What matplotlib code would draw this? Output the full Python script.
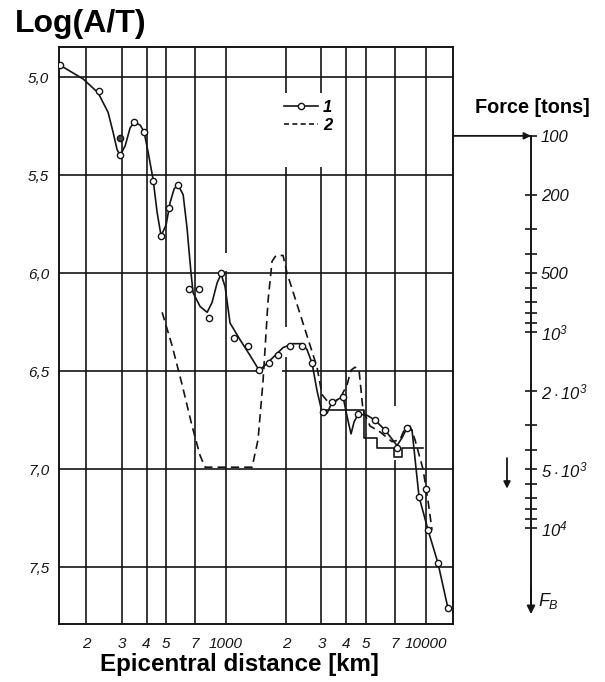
import numpy as np
import matplotlib
matplotlib.use('Agg')
import matplotlib.pyplot as plt
import matplotlib.transforms as mtransforms
from matplotlib.lines import Line2D
from matplotlib.ticker import FixedLocator, FixedFormatter

plt.rcParams['font.family'] = ['Liberation Sans', 'DejaVu Sans']
plt.rcParams['mathtext.fontset'] = 'custom'
plt.rcParams['mathtext.it'] = 'Liberation Sans:italic'
plt.rcParams['mathtext.rm'] = 'Liberation Sans:italic'

# curve 1: smooth line through the observations (distance km, log A/T)
c1_dist = [148, 193, 229, 257, 272, 285, 295, 313, 331, 347, 372, 389, 407, 432, 452,
           473, 501, 525, 550, 575, 610, 638, 652, 668, 684, 741, 804, 851, 902, 944,
           989, 1047, 1175, 1318, 1462, 1567, 1718, 1928, 2163, 2399, 2541, 2692, 2851,
           3020, 3199, 3388, 3846, 4027, 4217, 4365, 4571, 5070, 5559, 6237, 7161, 7586,
           8035, 8511, 9226, 10233, 11482, 12882]
c1_val = [4.94, 5.01, 5.08, 5.18, 5.28, 5.37, 5.40, 5.35, 5.26, 5.23, 5.245, 5.28, 5.38, 5.525, 5.69,
          5.81, 5.755, 5.64, 5.57, 5.55, 5.60, 5.77, 5.88, 6.00, 6.10, 6.17, 6.20, 6.15, 6.05, 6.005,
          6.07, 6.255, 6.34, 6.42, 6.495, 6.47, 6.43, 6.38, 6.36, 6.36, 6.39, 6.46, 6.60,
          6.71, 6.715, 6.66, 6.63, 6.73, 6.82, 6.76, 6.72, 6.725, 6.75, 6.80, 6.88, 6.84,
          6.79, 6.80, 7.14, 7.31, 7.48, 7.71]

# observed points of curve 1
pt_dist = [148, 232, 295, 347, 389, 432, 473, 519, 575, 650, 733, 822, 944, 1096, 1288,
           1462, 1641, 1820, 2090, 2400, 2690, 3055, 3390, 3850, 4570, 5560, 6240, 7160,
           8040, 9230, 10000, 10230, 11480, 12880]
pt_val = [4.94, 5.07, 5.40, 5.23, 5.28, 5.53, 5.81, 5.67, 5.55, 6.08, 6.08, 6.23, 6.00, 6.33, 6.37,
          6.495, 6.46, 6.42, 6.37, 6.37, 6.46, 6.71, 6.66, 6.63, 6.72, 6.75, 6.80, 6.89,
          6.79, 7.14, 7.10, 7.31, 7.48, 7.71]
dark_dist = [295]
dark_val = [5.31]

# curve 2 (dashed)
c2_dist = [479, 537, 603, 676, 741, 785, 1349, 1445, 1531, 1622, 1698, 1778, 1928, 2018,
           2265, 2541, 2851, 3020, 3311, 3715, 4027, 4217, 4416, 4624, 4842, 5248, 5888,
           6761, 7413, 7852, 8318, 8810, 9661, 10233, 10715]
c2_val = [6.20, 6.37, 6.57, 6.78, 6.93, 6.99, 6.99, 6.85, 6.55, 6.14, 5.94, 5.91, 5.91, 6.00,
          6.16, 6.32, 6.48, 6.62, 6.67, 6.64, 6.57, 6.495, 6.48, 6.495, 6.70, 6.78, 6.81,
          6.86, 6.85, 6.79, 6.78, 6.85, 7.00, 7.16, 7.31]

# stepped averages
step_edges = [3150, 4898, 5689, 6918, 7586, 9661]
step_levels = [6.70, 6.84, 6.89, 6.94, 6.89]

x_grid = [200, 300, 400, 500, 700, 1000, 2000, 3000, 4000, 5000, 7000, 10000]
x_labels = ['2', '3', '4', '5', '7', '1000', '2', '3', '4', '5', '7', '10000']
y_grid = [5.0, 5.5, 6.0, 6.5, 7.0, 7.5]
y_labels = ['5,0', '5,5', '6,0', '6,5', '7,0', '7,5']

force_major = [100, 200, 500, 1000, 2000, 5000, 10000]
force_labels = ['100', '200', '500', r'$10^{3}$', r'$2\cdot10^{3}$', r'$5\cdot10^{3}$', r'$10^{4}$']
force_minor = [300, 400, 600, 700, 800, 900, 3000, 4000, 6000, 7000, 8000, 9000]
force_shift = 3.3   # log10(F) = log(A/T) - shift

ink = '#151515'
ymin, ymax = 4.847, 7.79
xmin, xmax = 146, 13650

# where the draughtsman left the grid lines open around the curves
v_gaps = {1000: [(5.90, 5.99)], 2000: [(5.08, 5.46), (6.275, 6.43)],
          3000: [(5.08, 5.46)], 7000: [(6.68, 6.955)]}
h_gaps = {6.5: [(1510, 1900)]}

fig = plt.figure(figsize=(6.05, 6.82), dpi=100)
ax = fig.add_axes([0.0975, 0.085, 0.6513, 0.846])

ax.set_xscale('log')
ax.set_xlim(xmin, xmax)
ax.set_ylim(ymax, ymin)

ax.xaxis.set_major_locator(FixedLocator(x_grid))
ax.xaxis.set_major_formatter(FixedFormatter(x_labels))
ax.xaxis.set_minor_locator(FixedLocator([]))
ax.set_yticks(y_grid)
ax.set_yticklabels(y_labels)
ax.tick_params(length=0, labelsize=11, colors=ink)
ax.tick_params(axis='x', pad=9)
ax.tick_params(axis='y', pad=7)
for lab in ax.get_xticklabels() + ax.get_yticklabels():
    lab.set_fontstyle('italic')
for s in ax.spines.values():
    s.set_linewidth(1.4)
    s.set_color(ink)

for gx in x_grid:
    edges = [ymin] + [v for g in v_gaps.get(gx, []) for v in g] + [ymax]
    for lo, hi in zip(edges[0::2], edges[1::2]):
        ax.vlines(gx, lo, hi, color=ink, lw=1.2, zorder=1)
for gy in y_grid:
    edges = [xmin] + [v for g in h_gaps.get(gy, []) for v in g] + [xmax]
    for lo, hi in zip(edges[0::2], edges[1::2]):
        ax.hlines(gy, lo, hi, color=ink, lw=1.2, zorder=1)

ax.plot(c1_dist, c1_val, color=ink, lw=1.2, zorder=3)
ax.plot(c2_dist, c2_val, color=ink, lw=1.2, dashes=(5, 3), zorder=3)
sx = np.repeat(step_edges, 2)[1:-1]
sy = np.repeat(step_levels, 2)
ax.plot(sx, sy, color=ink, lw=1.2, zorder=3)
ax.plot(pt_dist, pt_val, ls='none', marker='o', ms=4.5, mfc='white', mec=ink, mew=1.0, zorder=4)
ax.plot(dark_dist, dark_val, ls='none', marker='o', ms=4.5, mfc='#444444', mec=ink, mew=1.0, zorder=4)

h1 = Line2D([], [], color=ink, lw=1.2, marker='o', ms=4.5, mfc='white', mec=ink)
h2 = Line2D([], [], color=ink, lw=1.2, dashes=(3, 2))
leg = ax.legend([h1, h2], ['1', '2'], loc='upper left', bbox_to_anchor=(0.53, 0.937),
                numpoints=1, handlelength=2.0, handletextpad=0.3, labelspacing=0.15,
                borderpad=0.5, fontsize=12, frameon=False)
for t in leg.get_texts():
    t.set_fontstyle('italic')
    t.set_fontweight('bold')

# force scale
ax2 = fig.add_axes([0.8777 - 0.001, 0.085, 0.001, 0.846])
ax2.set_yscale('log')
ax2.set_ylim(10 ** (ymax - force_shift), 10 ** (ymin - force_shift))
ax2.patch.set_visible(False)
ax2.set_xticks([])
for side in ['top', 'bottom', 'left']:
    ax2.spines[side].set_visible(False)
ax2.spines['right'].set_linewidth(1.4)
ax2.spines['right'].set_color(ink)
ax2.spines['right'].set_bounds(100, 26000)
ax2.yaxis.tick_right()
ax2.yaxis.set_major_locator(FixedLocator(force_major))
ax2.yaxis.set_major_formatter(FixedFormatter(force_labels))
ax2.yaxis.set_minor_locator(FixedLocator(force_minor))
ax2.yaxis.set_minor_formatter(FixedFormatter([]))
ax2.tick_params(axis='y', which='both', direction='inout', length=8, width=1.2,
                colors=ink, labelsize=12, pad=3)
for lab in ax2.get_yticklabels():
    lab.set_fontstyle('italic')

trans = mtransforms.blended_transform_factory(ax.transAxes, ax.transData)
ax.annotate('', xy=(1.198, 2 + force_shift), xytext=(1.0, 2 + force_shift),
            xycoords=trans, textcoords=trans,
            arrowprops=dict(arrowstyle='-|>', color=ink, lw=1.3, shrinkA=0, shrinkB=0,
                            mutation_scale=10))
ax2.annotate('', xy=(1, 27500), xytext=(1, 20000),
             xycoords=('axes fraction', 'data'), textcoords=('axes fraction', 'data'),
             arrowprops=dict(arrowstyle='-|>', color=ink, lw=1.3, shrinkA=0, shrinkB=0,
                             mutation_scale=12))
ax2.annotate('', xy=(0.838, 6300), xytext=(0.838, 4400),
             xycoords=('figure fraction', 'data'), textcoords=('figure fraction', 'data'),
             arrowprops=dict(arrowstyle='-|>', color=ink, lw=1.3, shrinkA=0, shrinkB=0,
                             mutation_scale=10))
ax2.annotate(r'$F_B$', xy=(0.89, 23500), xycoords=('figure fraction', 'data'),
             fontsize=13, va='center', ha='left', color=ink)

fig.text(0.025, 0.987, 'Log(A/T)', fontsize=23, fontweight='bold', va='top', ha='left')
fig.text(0.395, 0.025, 'Epicentral distance [km]', fontsize=17.4, fontweight='bold',
         va='center', ha='center')
fig.text(0.785, 0.843, 'Force [tons]', fontsize=14.3, fontweight='bold',
         va='center', ha='left')

fig.savefig('out.png', dpi=100)
